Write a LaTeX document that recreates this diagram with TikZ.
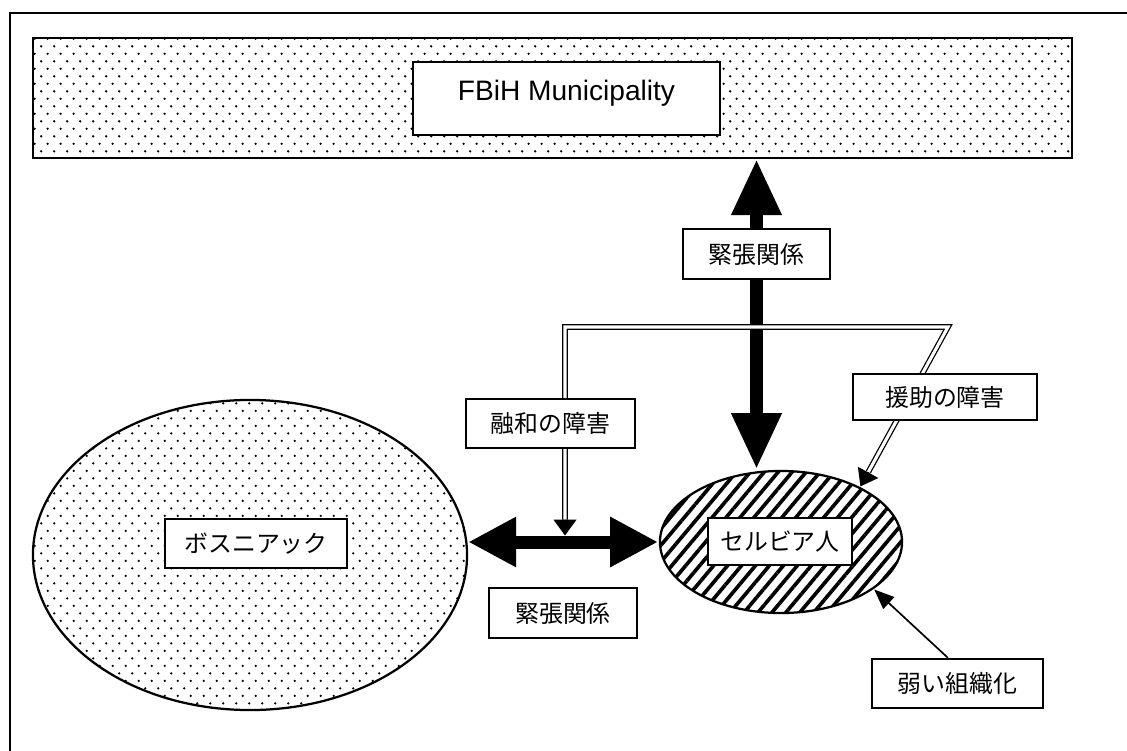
\documentclass[tikz,border=0pt]{standalone}
\usepackage{fontspec}
\setmainfont{Liberation Sans}
\newfontfamily\jpfont{Noto Sans CJK JP}
\usepackage{tikz}
\usetikzlibrary{shapes.geometric,arrows.meta,patterns,patterns.meta,calc}

\pgfdeclarepatternformonly{sparsedots}{\pgfpointorigin}{\pgfpoint{9.2pt}{10.6pt}}{\pgfpoint{9.2pt}{10.6pt}}{%
  \pgfpathcircle{\pgfpoint{2.3pt}{2.65pt}}{0.9pt}%
  \pgfpathcircle{\pgfpoint{6.9pt}{7.95pt}}{0.9pt}%
  \pgfusepath{fill}}

\tikzset{
  dotarea/.style={draw, line width=1.6pt, pattern=sparsedots, inner sep=0pt},
  hatcharea/.style={draw, ellipse, line width=1.6pt, inner sep=0pt,
    pattern={Lines[angle=50,distance=7.6pt,line width=2.6pt]}},
  jpbox/.style={draw, rectangle, fill=white, line width=1.5pt, inner sep=0pt,
    minimum height=1.225cm, font=\jpfont\fontsize{17pt}{20pt}\selectfont},
  tension/.style={line width=0.325cm,
    {Triangle[length=#1,width=1.175cm]}-{Triangle[length=#1,width=1.175cm]}},
  tension/.default=1.2cm,
  obstacle/.style={draw, double, line width=0.9pt, double distance=2.2pt, line join=miter},
  obstacletip/.style={line width=0.9pt, -{Triangle[length=0.4cm,width=0.575cm]}},
  weaktip/.style={line width=1.2pt, -{Triangle[length=0.5cm,width=0.4cm]}}
}

\begin{document}
\begin{tikzpicture}[x=0.025cm, y=-0.025cm]
  \useasboundingbox (0,0) rectangle (1127,751);
  \draw [line width=1.6pt] (10,751) -- (10,13) -- (1127,13);

  % Nodes
  \node [dotarea, rectangle, minimum width=25.975cm, minimum height=3cm] (band) at (552.5,98) {};
  \node [draw, rectangle, fill=white, line width=1.5pt, inner sep=0pt, minimum width=7.675cm,
    minimum height=1.825cm, text height=0.5cm, text depth=0.425cm, font=\fontsize{20pt}{24pt}\selectfont]
    (fbih) at (566.5,98.5) {FBiH Municipality};
  \node [dotarea, ellipse, minimum width=10.85cm, minimum height=7.75cm] (bos) at (250,555) {};
  \node [hatcharea, minimum width=6.05cm, minimum height=3.55cm] (srb) at (781,542) {};
  \node [jpbox, minimum width=4.55cm] (bosname) at (256,543.5) {ボスニアック};
  \node [jpbox, minimum width=3.6cm, minimum height=1.175cm] (srbname) at (780,541.5) {セルビア人};

  % Coordinates
  \coordinate (hub) at (565,535.5);
  \coordinate (kinkL) at (565,327);
  \coordinate (kinkR) at (948,327);

  % Arrows
  \draw [tension=1.4cm] (band.south -| 756.5,0) -- (756.5,0 |- srb.north);
  \draw [tension] (srb.west -| bos.east) -- (srb.west);
  \draw [obstacle] ($(hub)+(0,-16)$) -- (kinkL) -- (kinkR) -- ($(srb.35.5)!0.09!(kinkR)$);
  \draw [obstacletip] ($(hub)+(0,-16)$) -- (hub);
  \draw [obstacletip] ($(srb.35.5)!0.09!(kinkR)$) -- (srb.35.5);

  % Labels
  \node [jpbox, minimum width=3.675cm, minimum height=1.25cm] (tensup) at (756.5,254) {緊張関係};
  \node [jpbox, minimum width=3.7cm, minimum height=1.25cm] (tenslow) at (563,613) {緊張関係};
  \node [jpbox, minimum width=4.225cm] (integ) at (550.5,423.5) {融和の障害};
  \node [jpbox, minimum width=4.6cm, minimum height=1.15cm] (aid) at (945,397) {援助の障害};
  \node [jpbox, minimum width=4.275cm] (weak) at (957.5,683.5) {弱い組織化};

  \draw [weaktip] (weak.north -| 948,0) -- (srb.-27);
\end{tikzpicture}
\end{document}
